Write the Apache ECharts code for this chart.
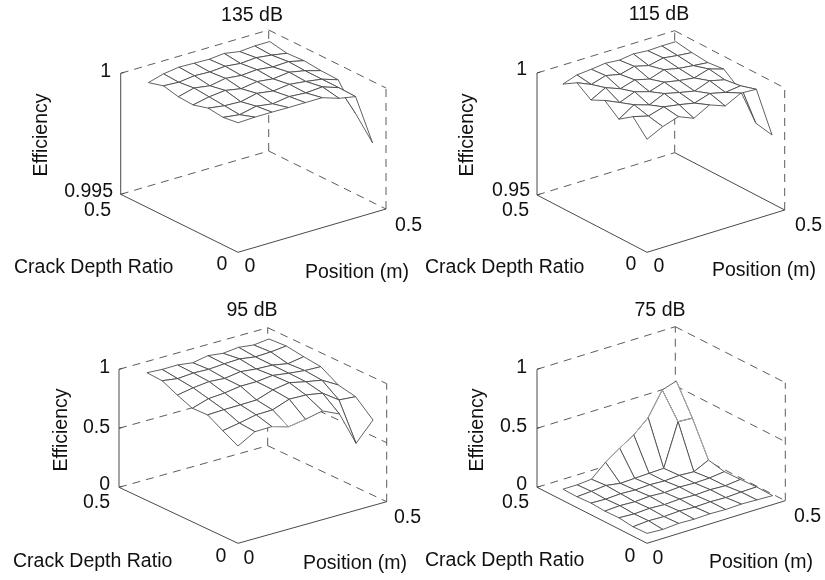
<!DOCTYPE html>
<html>
<head>
<meta charset="utf-8">
<style>html,body{margin:0;padding:0;background:#fff}#c{width:825px;height:580px}</style>
<script src="https://cdn.jsdelivr.net/npm/echarts@6/dist/echarts.min.js"></script>
</head>
<body>
<div id="c"></div>
<script>
// ---- data ----
const depthRatios = [0.05,0.116,0.182,0.248,0.313,0.379,0.445];
const positionsNear = [0.04,0.097,0.154,0.21,0.267,0.324,0.381,0.437,0.494];
const positionsFar = [0.05,0.101,0.153,0.204,0.255,0.306,0.358,0.409,0.46];
const eff135 = [
 [0.99997,1,1,0.99999,0.99999,0.99999,0.99976,0.99963,0.99752],
 [0.99987,0.99978,0.99993,0.99983,0.99993,0.99988,0.99993,0.9997,0.99845],
 [0.99993,0.99983,0.9998,0.99995,0.99985,0.99993,0.99985,0.99975,0.99953],
 [0.99974,0.99988,0.99995,0.99983,0.99993,0.99985,0.99993,0.9998,0.99961],
 [0.99976,0.99993,0.99983,0.99995,0.99988,0.99993,0.99985,0.99988,0.99973],
 [0.99989,0.99985,0.99993,0.9999,0.99995,0.99988,0.99993,0.99985,0.99974],
 [0.9997,0.99988,0.99997,0.99995,0.99993,0.99999,0.99988,0.99993,0.99993]];
const eff115 = [
 [0.9926,0.9958,0.9979,0.9953,0.9988,0.9964,0.9997,0.9993,0.9786],
 [0.9987,0.997,0.9988,0.9978,0.9965,0.9985,0.997,0.9978,0.9805],
 [0.9945,0.9985,0.9965,0.9993,0.9978,0.9965,0.9988,0.9973,0.9913],
 [0.999,0.9963,0.9988,0.997,0.999,0.9978,0.997,0.9988,0.9969],
 [0.9961,0.9993,0.997,0.9988,0.9973,0.9993,0.998,0.9973,0.9967],
 [1,0.9975,0.9993,0.998,0.9995,0.998,0.9993,0.9985,0.9979],
 [0.9963,0.9983,0.9988,0.9995,0.999,0.9998,0.9993,0.9995,0.9995]];
const eff95 = [
 [0.749,0.83,0.833,0.792,0.815,0.846,0.78,0.492,0.649],
 [0.815,0.84,0.87,0.873,0.924,0.92,0.896,0.8,0.788],
 [0.885,0.89,0.892,0.895,0.942,0.964,0.933,0.908,0.829],
 [0.877,0.92,0.93,0.95,0.95,0.965,0.945,0.93,0.925],
 [0.926,0.95,0.965,0.955,0.975,0.96,0.955,0.93,0.952],
 [0.984,0.965,0.975,0.97,0.98,0.985,0.965,0.97,0.984],
 [0.988,0.98,0.981,0.964,0.988,0.972,0.986,0.97,0.985]];
const eff75 = [
 [0.008,0,0.01,0.005,0.01,0.005,0.01,0.005,0],
 [0,0.01,0.005,0.012,0.005,0.01,0.005,0.012,0.015],
 [0.012,0.005,0.012,0.005,0.012,0.006,0.012,0.006,0.02],
 [0.005,0.012,0.006,0.014,0.006,0.014,0.008,0.012,0.027],
 [0.01,0.005,0.012,0.006,0.012,0.006,0.014,0.007,0.068],
 [0,0.008,0.02,0,0.005,0.01,0.014,0.372,0.364],
 [0,0,0.01,0.117,0.2,0.275,0.384,0.582,0.621]];
const titles = ['135 dB','115 dB','95 dB','75 dB'];
const zLimits = [[0.995,1],[0.95,1],[0,1],[0,1]];
const zTicks = [[0.995,1],[0.95,1],[0,0.5,1],[0,0.5,1]];
const axisMax = 0.5;
const xLabel = 'Position (m)', yLabel = 'Crack Depth Ratio', zLabel = 'Efficiency';
// mesh edges that the original draws in a paler grey, as [i1,j1,i2,j2]
const paleEdges = [[],[],
 [[2,0,3,0],[3,0,4,0],[3,0,3,1]],
 [[7,6,7,5],[7,5,8,5],[8,6,8,5],[8,5,8,4],[3,6,4,6],[4,6,5,6],[5,6,6,6],[6,6,7,6]]];

// ---- layout (screen placement of each 3D box and its texts) ----
const layout = [
 {F:[238,252.3],R:[386,209],L:[120.7,194.3],H:121,solidBackRight:false,
  title:[252,16],eff:[42,135],zLab:[[113,192],[111,72]],yMax:[111,211],yMin:[222,265],xMin:[250,267],xMax:[395,226],crack:[14,268],pos:[305,273]},
 {F:[647,252.3],R:[784.7,210],L:[537,195],H:122,solidBackRight:true,
  title:[659,15],eff:[468,135],zLab:[[530,191],[527,70]],yMax:[529,211],yMin:[631,265],xMin:[659,267],xMax:[795,226],crack:[425,268],pos:[712,271]},
 {F:[238,543.3],R:[386.7,501.7],L:[119,487.3],H:118,solidBackRight:false,
  title:[252,311],eff:[62,430],zLab:[[110,485],[110,428],[110,368]],yMax:[110,503],yMin:[221,557],xMin:[249,559],xMax:[394,518],crack:[13,562],pos:[303,564]},
 {F:[647,543.3],R:[785.3,500.7],L:[537,487.3],H:118,solidBackRight:false,
  title:[660,311],eff:[478,430],zLab:[[527,485],[527,427],[527,368]],yMax:[529,503],yMin:[630,557],xMin:[658,559],xMax:[794,517],crack:[425,561],pos:[709,563]}
];
const surfaces = [eff135,eff115,eff95,eff75];

function project(k,p,d,z){
  const a=layout[k], lim=zLimits[k];
  const u=p/axisMax, v=d/axisMax, w=(z-lim[0])/(lim[1]-lim[0]);
  return [a.F[0]+u*(a.R[0]-a.F[0])+v*(a.L[0]-a.F[0]),
          a.F[1]+u*(a.R[1]-a.F[1])+v*(a.L[1]-a.F[1])-w*a.H];
}
function vertex(k,i,j){
  const t=(depthRatios[j]-depthRatios[0])/(depthRatios[6]-depthRatios[0]);
  return [positionsNear[i]+(positionsFar[i]-positionsNear[i])*t, depthRatios[j], surfaces[k][j][i]];
}
const meshSeries = surfaces.map((rows,k)=>{
  const quads=[];
  for(let j=rows.length-2;j>=0;j--) for(let i=rows[0].length-2;i>=0;i--){
    quads.push([...vertex(k,i,j),...vertex(k,i+1,j),...vertex(k,i+1,j+1),...vertex(k,i,j+1)]);
  }
  return {type:'custom',coordinateSystem:'cartesian2d',silent:true,animation:false,z:5,clip:false,data:quads,
    renderItem:(params,api)=>{
      const pts=[];
      for(let n=0;n<4;n++){
        const s=project(k,api.value(n*3),api.value(n*3+1),api.value(n*3+2));
        pts.push(api.coord(s));
      }
      return {type:'polygon',shape:{points:pts},style:{fill:'#fff',stroke:'#444',lineWidth:0.85,lineJoin:'round'}};
    }};
});
const paleSeries = surfaces.map((rows,k)=>({
  type:'custom',coordinateSystem:'cartesian2d',silent:true,animation:false,z:6,clip:false,
  data:paleEdges[k].map(e=>[...vertex(k,e[0],e[1]),...vertex(k,e[2],e[3])]),
  renderItem:(params,api)=>{
    const a=api.coord(project(k,api.value(0),api.value(1),api.value(2)));
    const b=api.coord(project(k,api.value(3),api.value(4),api.value(5)));
    return {type:'line',shape:{x1:a[0],y1:a[1],x2:b[0],y2:b[1]},style:{stroke:'#a8a8a8',lineWidth:1}};
  }}));
const boxSeries = surfaces.map((rows,k)=>{
  const [z0,z1]=zLimits[k], m=axisMax, segs=[];
  const seg=(a,b,dash)=>segs.push([...a,...b,dash?1:0]);
  seg([0,m,z0],[0,0,z0],false); seg([0,0,z0],[m,0,z0],false); seg([0,m,z0],[0,m,z1],false);
  seg([0,m,z0],[m,m,z0],true); seg([m,m,z0],[m,0,z0],!layout[k].solidBackRight);
  seg([m,m,z0],[m,m,z1],true); seg([m,0,z0],[m,0,z1],true);
  zTicks[k].forEach(t=>{
    if(t===z0) return;
    seg([0,m,t],[m,m,t],true); seg([m,m,t],[m,0,t],true);
  });
  zTicks[k].forEach(t=>seg([0,m,t],[0.012,m,t],false));
  return {type:'custom',coordinateSystem:'cartesian2d',silent:true,animation:false,z:2,clip:false,data:segs,
    renderItem:(params,api)=>{
      const a=api.coord(project(k,api.value(0),api.value(1),api.value(2)));
      const b=api.coord(project(k,api.value(3),api.value(4),api.value(5)));
      const dash=api.value(6)===1;
      return {type:'line',shape:{x1:a[0],y1:a[1],x2:b[0],y2:b[1]},
        style:{stroke:'#4a4a4a',lineWidth:dash?0.9:1,lineDash:dash?[8,6]:null}};
    }};
});
const FONT='19.5px "Liberation Sans", Arial, sans-serif';
const txt=(s,pt,align,rot)=>({type:'text',x:pt[0],y:pt[1],rotation:rot||0,silent:true,z:10,
  style:{text:s,font:FONT,fill:'#111',align:align,verticalAlign:'middle'}});
const graphics=[];
layout.forEach((a,k)=>{
  graphics.push(txt(titles[k],a.title,'center'));
  graphics.push(txt(zLabel,a.eff,'center',Math.PI/2));
  zTicks[k].forEach((t,n)=>graphics.push(txt(String(t),a.zLab[n],'right')));
  graphics.push(txt(String(axisMax),a.yMax,'right'));
  graphics.push(txt('0',a.yMin,'center'));
  graphics.push(txt('0',a.xMin,'center'));
  graphics.push(txt(String(axisMax),a.xMax,'left'));
  graphics.push(txt(yLabel,a.crack,'left'));
  graphics.push(txt(xLabel,a.pos,'left'));
});
const chart=echarts.init(document.getElementById('c'),null,{renderer:'canvas'});
chart.setOption({
  animation:false,backgroundColor:'#fff',
  grid:{left:0,top:0,width:825,height:580,containLabel:false},
  xAxis:{type:'value',min:0,max:825,show:false},
  yAxis:{type:'value',min:0,max:580,inverse:true,show:false},
  series:[...boxSeries,...meshSeries,...paleSeries],
  graphic:graphics
});
</script>
</body>
</html>
